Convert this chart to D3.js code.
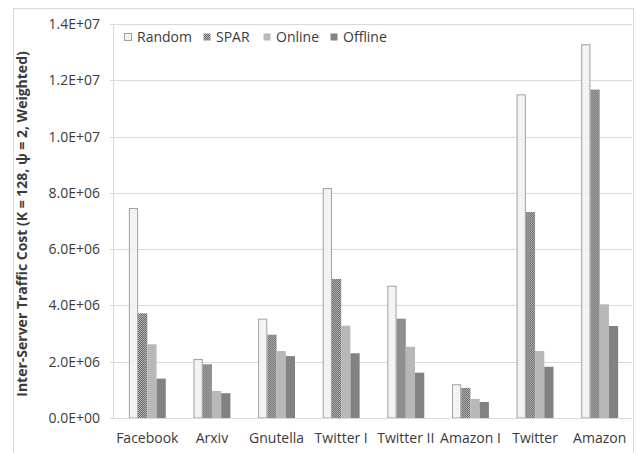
<!DOCTYPE html>
<html>
<head>
<meta charset="utf-8">
<script src="https://cdn.jsdelivr.net/npm/d3@7"></script>
<style>
  html, body { margin: 0; padding: 0; background: #fff; }
  svg { display: block; font-family: "Open Sans", sans-serif; }
</style>
</head>
<body>
<svg id="chart" width="636" height="453"></svg>
<script>
// Inter-server traffic cost per dataset and partitioning scheme
const categories = ["Facebook", "Arxiv", "Gnutella", "Twitter I", "Twitter II", "Amazon I", "Twitter", "Amazon"];
const seriesNames = ["Random", "SPAR", "Online", "Offline"];
const randomVals  = [7.46e6, 2.10e6, 3.53e6, 8.17e6, 4.70e6, 1.20e6, 11.50e6, 13.28e6];
const sparVals    = [3.72e6, 1.91e6, 2.96e6, 4.94e6, 3.53e6, 1.07e6, 7.32e6, 11.67e6];
const onlineVals  = [2.62e6, 0.96e6, 2.38e6, 3.28e6, 2.53e6, 0.68e6, 2.38e6, 4.04e6];
const offlineVals = [1.40e6, 0.88e6, 2.20e6, 2.30e6, 1.61e6, 0.57e6, 1.82e6, 3.27e6];
const yTicks = [0, 2e6, 4e6, 6e6, 8e6, 10e6, 12e6, 14e6];
const yTickLabels = ["0.0E+00", "2.0E+06", "4.0E+06", "6.0E+06", "8.0E+06", "1.0E+07", "1.2E+07", "1.4E+07"];
const yLabel = "Inter-Server Traffic Cost (K = 128, \u03C8 = 2, Weighted)";

const seriesVals = [randomVals, sparVals, onlineVals, offlineVals];
const svg = d3.select("#chart");
const textColor = "#3b3b3b";

// Fills: light outline, dithered checker, light gray, mid gray
const defs = svg.append("defs");
const chk = defs.append("pattern").attr("id", "spar").attr("patternUnits", "userSpaceOnUse")
  .attr("width", 2).attr("height", 2);
chk.append("rect").attr("width", 2).attr("height", 2).attr("fill", "#b8b8b8");
chk.append("rect").attr("width", 1).attr("height", 1).attr("fill", "#666");
chk.append("rect").attr("x", 1).attr("y", 1).attr("width", 1).attr("height", 1).attr("fill", "#666");
const rnd = defs.append("pattern").attr("id", "rnd").attr("patternUnits", "userSpaceOnUse")
  .attr("width", 2).attr("height", 2);
rnd.append("rect").attr("width", 2).attr("height", 2).attr("fill", "#f7f7f7");
rnd.append("rect").attr("width", 1).attr("height", 1).attr("fill", "#e8e8e8");

const fills = ["url(#rnd)", "url(#spar)", "#b8b8b8", "#828282"];
const strokes = ["#a0a0a0", "none", "none", "none"];

// Outer chart frame
svg.append("rect").attr("x", 13.5).attr("y", 8.5).attr("width", 620).attr("height", 470)
  .attr("fill", "none").attr("stroke", "#d9d9d9");

const x0 = d3.scaleBand().domain(categories).range([115, 632]);
const bw = x0.bandwidth();
const x1 = d3.scaleBand().domain(seriesNames).range([bw * 3 / 14, bw * 11 / 14]);
const y = d3.scaleLinear().domain([0, 1.4e7]).range([418, 24]);

// Gridlines
svg.append("g").selectAll("line").data(yTicks).join("line")
  .attr("x1", 110).attr("x2", 632)
  .attr("y1", d => Math.round(y(d)) + 0.5).attr("y2", d => Math.round(y(d)) + 0.5)
  .attr("stroke", "#d9d9d9").attr("stroke-width", 1);

// Y axis tick labels
const yAxis = d3.axisLeft(y).tickValues(yTicks)
  .tickFormat((d, i) => yTickLabels[i]).tickSize(0).tickPadding(0);
const yg = svg.append("g").attr("transform", "translate(100,0)").call(yAxis);
yg.select(".domain").remove();
yg.selectAll("text").attr("font-family", "Open Sans").attr("font-size", 14).attr("fill", textColor);

// Vertical axis line
svg.append("line").attr("x1", 113.5).attr("x2", 113.5).attr("y1", 24).attr("y2", 418)
  .attr("stroke", "#d9d9d9");

// Bars
const groups = svg.append("g").selectAll("g").data(categories).join("g")
  .attr("transform", c => `translate(${x0(c)},0)`);
groups.selectAll("rect").data((c, ci) => seriesNames.map((s, si) => ({ s, si, v: seriesVals[si][ci] })))
  .join("rect")
  .attr("x", d => x1(d.s) + (d.si === 0 ? 0.5 : 0))
  .attr("y", d => y(d.v) + (d.si === 0 ? 0.5 : 0))
  .attr("width", d => x1.bandwidth() - (d.si === 0 ? 1 : 0))
  .attr("height", d => y(0) - y(d.v) - (d.si === 0 ? 0.5 : 0))
  .attr("fill", d => fills[d.si])
  .attr("stroke", d => strokes[d.si]).attr("stroke-width", 1);

// Category axis
const xAxis = d3.axisBottom(x0).tickSize(0).tickPadding(0);
const xg = svg.append("g").attr("transform", "translate(0,418)").call(xAxis);
xg.select(".domain").attr("stroke", "#d9d9d9").attr("d", "M110,0.5H632");
xg.selectAll("text").attr("font-family", "Open Sans").attr("font-size", 14)
  .attr("fill", textColor).attr("dy", "1.05em").attr("y", 10);

// Y axis title
svg.append("text")
  .attr("transform", "translate(27,224) rotate(-90)")
  .attr("text-anchor", "middle")
  .attr("font-family", "Open Sans").attr("font-weight", "bold").attr("font-size", 14)
  .attr("fill", textColor)
  .text(yLabel);

// Legend
const legendX = [124, 203, 263, 330];
const lg = svg.append("g").selectAll("g").data(seriesNames).join("g")
  .attr("transform", (d, i) => `translate(${legendX[i]},33)`);
lg.append("rect").attr("x", 0.5).attr("y", 0.5).attr("width", 7).attr("height", 7)
  .attr("fill", (d, i) => fills[i]).attr("stroke", (d, i) => strokes[i]);
lg.append("text").attr("x", 13).attr("y", 4).attr("dy", "0.35em")
  .attr("font-family", "Open Sans").attr("font-size", 14).attr("fill", textColor)
  .text(d => d);
</script>
</body>
</html>
